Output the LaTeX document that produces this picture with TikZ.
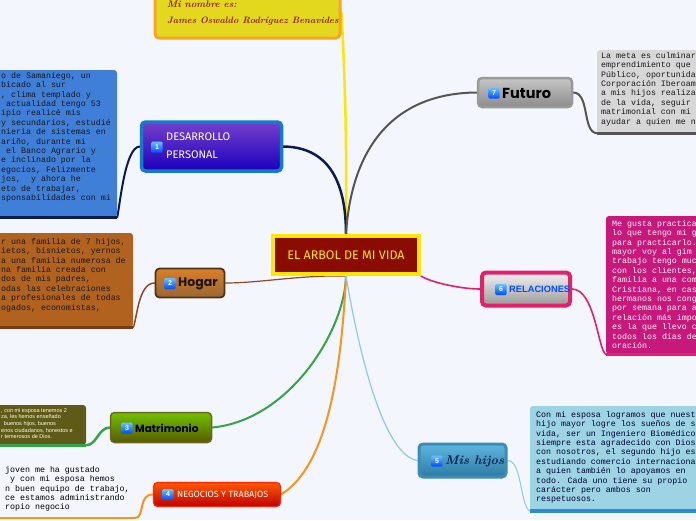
\documentclass[tikz,border=0pt]{standalone}
\usepackage{fontspec}
\newfontfamily\monofont{Liberation Mono}
\newfontfamily\headfont{Poppins}
\newfontfamily\sansfont{Liberation Sans}
\newfontfamily\handfont{Fira Sans}
\definecolor{bgc}{HTML}{F3F6FD}
\definecolor{navy}{HTML}{0B1B4D}
\definecolor{bluebox}{HTML}{3F7FD8}
\definecolor{brownbox}{HTML}{B1621F}
\definecolor{brownline}{HTML}{8A4A22}
\definecolor{brownbar}{HTML}{7A3B12}
\definecolor{olivebox}{HTML}{5E5B19}
\definecolor{greenline}{HTML}{35A34A}
\definecolor{orangeline}{HTML}{F7941D}
\definecolor{graybox}{HTML}{D7D7D7}
\definecolor{grayline}{HTML}{555555}
\definecolor{pinkbox}{HTML}{C7197C}
\definecolor{pinkline}{HTML}{E3206A}
\definecolor{lbbox}{HTML}{9DD4E4}
\definecolor{lbbar}{HTML}{2D8BD6}
\definecolor{lbline}{HTML}{8EC8E2}
\definecolor{yel}{HTML}{FFE600}
\definecolor{darkred}{HTML}{8A0C00}
\definecolor{namefill}{HTML}{E4D81E}
\definecolor{nameborder}{HTML}{F6A623}
\definecolor{namered}{HTML}{8B1A12}
\definecolor{hijostop}{HTML}{5DB6DE}
\definecolor{hijosbot}{HTML}{2E7BA4}
\definecolor{hijosdraw}{HTML}{3B8CB8}
\pgfdeclarelayer{back}
\pgfdeclarelayer{edges}
\pgfsetlayers{back,edges,main}
\tikzset{
  descbox/.style={rectangle, rounded corners=3pt, inner sep=0pt, draw=none},
  desctext/.style={anchor=north west, inner sep=0pt, align=left, font=\monofont\fontsize{8.3}{9.4}\selectfont},
  topicbox/.style={rectangle, rounded corners=4pt, inner sep=0pt},
  icon/.style={rectangle, rounded corners=1pt, minimum size=11pt, inner sep=0pt, top color=cyan!60!blue!60!white, bottom color=blue!70!cyan, text=white, font=\sansfont\bfseries\fontsize{7}{8}\selectfont},
  toptext/.style={anchor=west, inner sep=0pt},
  conn/.style={line cap=round}
}
\begin{document}
\begin{tikzpicture}[x=1pt,y=-1pt]
\useasboundingbox (0,0) rectangle (696,520);
\begin{pgfonlayer}{back}
\fill[bgc] (0,0) rectangle (696,520);
\end{pgfonlayer}

% ---------- description boxes ----------
\node[descbox, fill=bluebox, minimum width=122pt, minimum height=147pt] (dbox1) at (56,143.5) {};
\draw[navy, line width=3pt] (dbox1.south west) -- (dbox1.south east);
\node[desctext, text=black!90] (dtext1) at (1,72) {o de Samaniego, un\\bicado al sur\\, clima templado y\\\phantom{x}actualidad tengo 53\\ipio realicé mis\\y secundarios, estudié\\nieria de sistemas en\\ariño, durante mi\\\phantom{x}el Banco Agrario y\\e inclinado por la\\egocios, Felizmente\\jos,\phantom{xx}y ahora he\\eto de trabajar,\\sponsabilidades con mi};

\node[descbox, fill=brownbox, minimum width=138pt, minimum height=94pt] (dbox2) at (64,280) {};
\draw[brownbar, line width=3pt] (dbox2.south west) -- (dbox2.south east);
\node[desctext, text=black!90] (dtext2) at (1,238) {r una familia de 7 hijos,\\ietos, bisnietos, yernos\\a una familia numerosa de\\na familia creada con\\dos de mis padres,\\odas las celebraciones\\a profesionales de todas\\ogados, economistas,};

\node[descbox, fill=olivebox, minimum width=91pt, minimum height=40pt] (dbox3) at (40.5,425) {};
\draw[greenline, line width=3pt] (dbox3.south west) -- (dbox3.south east);
\node[anchor=north west, inner sep=0pt, align=left, text=white!90!yellow, font=\sansfont\fontsize{5.5}{6.7}\selectfont] (dtext3) at (1,408) {, con mi esposa tenemos 2\\za, les hemos enseñado\\\phantom{x}buenos hijos, buenos\\enos ciudadanos, honestos e\\r temerosos de Dios.};

\coordinate (obarL) at (-5,518);
\coordinate (obarR) at (135,518);
\draw[orangeline, line width=2.5pt] (obarL) -- (obarR);
\node[desctext, text=black] (dtext4) at (0,466) {\phantom{x}joven me ha gustado\\\phantom{xx}y con mi esposa hemos\\\phantom{x}n buen equipo de trabajo,\\\phantom{x}ce estamos administrando\\\phantom{x}ropio negocio};

\node[descbox, fill=graybox, minimum width=104pt, minimum height=83pt] (dbox7) at (649,91.5) {};
\draw[grayline, line width=3pt] (dbox7.south west) -- (dbox7.south east);
\node[desctext, text=black!90] (dtext7) at (601,52) {La meta es culminar\\emprendimiento que\\Público, oportunida\\Corporación Iberoam\\a mis hijos realiza\\de la vida, seguir\\matrimonial con mi\\ayudar a quien me n};

\node[descbox, fill=pinkbox, minimum width=94pt, minimum height=138pt] (dbox6) at (653,285) {};
\draw[pinkline, line width=3pt] (dbox6.south west) -- (dbox6.south east);
\node[desctext, text=white!85!pink] (dtext6) at (612,220) {Me gusta practica\\lo que tengo mi g\\para practicarlo.\\mayor voy al gim\\trabajo tengo muc\\con los clientes,\\familia a una com\\Cristiana, en cas\\hermanos nos cong\\por semana para a\\relación más impo\\es la que llevo c\\todos los días de\\oración.};

\node[descbox, fill=lbbox, minimum width=170pt, minimum height=105pt] (dbox5) at (615,458.5) {};
\draw[lbbar, line width=3.5pt] (dbox5.south west) -- (dbox5.south east);
\node[desctext, text=black!80!blue] (dtext5) at (536,411) {Con mi esposa logramos que nuest\\hijo mayor logre los sueños de s\\vida, ser un Ingeniero Biomédico\\siempre esta agradecido con Dios\\con nosotros, el segundo hijo es\\estudiando comercio internaciona\\a quien también lo apoyamos en\\todo. Cada uno tiene su propio\\carácter pero ambos son\\respetuosos.};

% ---------- name box ----------
\node[topicbox, fill=namefill, draw=nameborder, line width=3pt, minimum width=185pt, minimum height=50pt] (name) at (247.5,13) {};
\node[toptext, text=namered, font=\itshape\bfseries\fontsize{9.5}{10}\selectfont] (name1) at (167,4) {Mi nombre es:};
\node[toptext, text=namered, font=\itshape\bfseries\fontsize{9.2}{11}\selectfont] (name2) at (167,21) {James Oswaldo Rodríguez Benavides};

% ---------- central ----------
\node[rectangle, fill=darkred, draw=yel, line width=4pt, minimum width=146pt, minimum height=38pt, inner sep=0pt, text=yel, font=\handfont\fontsize{12.5}{14}\selectfont] (c) at (346,255) {EL ARBOL DE MI VIDA};

% ---------- topics ----------
\node[topicbox, top color=violet!55!blue!75!white, bottom color=blue!75!violet!85!black, draw=cyan!60!blue, line width=3.5pt, minimum width=140pt, minimum height=49pt] (t1) at (211.5,146.5) {};
\node[icon] (i1) at (157,147) {1};
\node[toptext, align=left, text=white, font=\handfont\fontsize{11}{18}\selectfont] (l1) at (166,146) {DESARROLLO\\PERSONAL};

\node[topicbox, top color=brown!60!orange, bottom color=brown!80!black, draw=brown!40!black, line width=1.8pt, minimum width=69pt, minimum height=29pt] (t2) at (190,283) {};
\node[icon] (i2) at (170,283.5) {2};
\node[toptext, text=black!85!brown, font=\headfont\bfseries\fontsize{12.5}{13}\selectfont] (l2) at (178,283.5) {Hogar};

\node[topicbox, top color=olive!60!green!80!yellow, bottom color=olive!70!black, draw=olive!70!black, line width=1.5pt, minimum width=101pt, minimum height=30pt] (t3) at (161,427.5) {};
\node[icon] (i3) at (127,428) {3};
\node[toptext, text=black, font=\headfont\bfseries\fontsize{10.5}{11}\selectfont] (l3) at (135,428.5) {Matrimonio};

\node[topicbox, top color=orange!70!red, bottom color=red!75!black, draw=red!70!orange, line width=1.2pt, minimum width=127pt, minimum height=24pt] (t4) at (217,494.5) {};
\node[icon] (i4) at (168,494.5) {4};
\node[toptext, text=white, font=\handfont\fontsize{9}{10}\selectfont] (l4) at (177,495) {NEGOCIOS Y TRABAJOS};

\node[topicbox, top color=hijostop, bottom color=hijosbot, draw=hijosdraw, line width=3pt, minimum width=87pt, minimum height=33pt] (t5) at (462.5,460.5) {};
\node[icon] (i5) at (437,461) {5};
\node[toptext, text=navy, font=\itshape\bfseries\fontsize{12.5}{13}\selectfont] (l5) at (445,461) {Mis hijos};

\node[topicbox, top color=white!90!gray, bottom color=gray!80, draw=pinkline, line width=4pt, minimum width=88pt, minimum height=33pt] (t6) at (526,289) {};
\node[icon] (i6) at (501,289.5) {6};
\node[toptext, text=blue!70!cyan, font=\sansfont\bfseries\fontsize{9.3}{10}\selectfont] (l6) at (509,289.5) {RELACIONES};

\node[topicbox, top color=gray!45, bottom color=gray!90, draw=gray!80, line width=2.5pt, minimum width=94pt, minimum height=29pt] (t7) at (525,92.5) {};
\node[icon] (i7) at (494,93) {7};
\node[toptext, text=black, font=\headfont\bfseries\fontsize{14.5}{15}\selectfont] (l7) at (502,93.5) {Futuro};

% ---------- connectors ----------
\begin{pgfonlayer}{edges}
\draw[conn, yel, line width=2.5pt] (c.north) .. controls (347,120) and (344,60) .. (name.east);
\draw[conn, navy, line width=2.5pt] (c.north) .. controls (346,170) and (320,147) .. (t1.east);
\draw[conn, grayline, line width=2pt] (c.north) .. controls (352,140) and (400,93) .. (t7.west);
\draw[conn, brownline, line width=1.2pt] (c.south) .. controls (300,275) and (260,283) .. (t2.east);
\draw[conn, pinkline, line width=1.6pt] (c.south east) .. controls (430,282) and (460,289) .. (t6.west);
\draw[conn, greenline, line width=2pt] (c.south) .. controls (345,330) and (290,420) .. (t3.east);
\draw[conn, orangeline, line width=2pt] (c.south) .. controls (340,400) and (320,470) .. (t4.east);
\draw[conn, lbline, line width=1.2pt] (c.south) .. controls (355,330) and (380,455) .. (t5.west);
\draw[conn, navy, line width=2pt] (t1.west) .. controls (125,147) and (120,205) .. (dbox1.south east);
\draw[conn, brownline, line width=1.5pt] (t2.west) .. controls (138,283) and (137,320) .. (dbox2.south east);
\draw[conn, greenline, line width=2.5pt] (t3.west) .. controls (98,428) and (97,445) .. (dbox3.south east);
\draw[conn, orangeline, line width=2pt] (t4.west) .. controls (138,494) and (145,518) .. (obarR);
\draw[conn, grayline, line width=2pt] (t7.east) .. controls (590,93) and (582,132) .. (dbox7.south west);
\draw[conn, pinkline, line width=1.6pt] (t6.east) .. controls (595,289) and (598,350) .. (dbox6.south west);
\draw[conn, lbline, line width=1pt] (t5.east) .. controls (522,460) and (520,505) .. (dbox5.south west);
\end{pgfonlayer}
\end{tikzpicture}
\end{document}
